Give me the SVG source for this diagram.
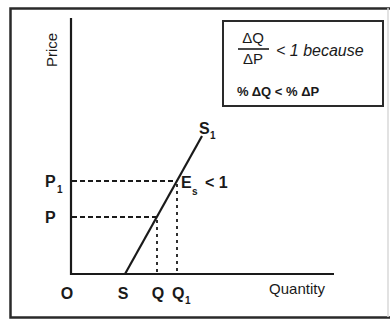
<svg xmlns="http://www.w3.org/2000/svg" width="390" height="320" viewBox="0 0 390 320">
<style>
text{font-family:"Liberation Sans",Arial,sans-serif;fill:#1a1a1a}
.lbl{font-size:16px;font-weight:bold}
.sub{font-size:10px;font-weight:bold}
.ax{stroke:#1a1a1a;stroke-width:2.2;fill:none}
.dash{stroke:#1a1a1a;stroke-width:1.8;stroke-dasharray:5 3;fill:none}
.dot{stroke:#1a1a1a;stroke-width:1.8;stroke-dasharray:3 4;fill:none}
</style>
<rect width="390" height="320" fill="#fff"/>
<g id="frame">
<path d="M390 8.5 H10.5 V317.5 H390" fill="none" stroke="#2a2a2a" stroke-width="2.5"/>
<line x1="388" y1="8" x2="388" y2="317" stroke="#d8d8d8" stroke-width="1.5"/>
</g>
<g id="axes">
<path class="ax" d="M71 18 V274 H334"/>
<text transform="translate(57 50) rotate(-90)" text-anchor="middle" font-size="15">Price</text>
<text x="297" y="294" text-anchor="middle" font-size="15">Quantity</text>
<text class="lbl" x="67" y="299" text-anchor="middle">O</text>
</g>
<g id="connectors">
<line class="ax" x1="125" y1="274" x2="202" y2="136" stroke-width="2"/>
<line class="dash" x1="72" y1="181" x2="177" y2="181"/>
<line class="dash" x1="72" y1="217" x2="157" y2="217"/>
<line class="dot" x1="157" y1="220" x2="157" y2="273"/>
<line class="dot" x1="177" y1="184" x2="177" y2="273"/>
</g>
<g id="labels">
<text class="lbl" x="45" y="187">P</text><text class="sub" x="57" y="193">1</text>
<text class="lbl" x="45" y="223">P</text>
<text class="lbl" x="123" y="299" text-anchor="middle">S</text>
<text class="lbl" x="158" y="299" text-anchor="middle">Q</text>
<text class="lbl" x="172" y="299">Q</text><text class="sub" x="185" y="304">1</text>
<text class="lbl" x="199" y="134">S</text><text class="sub" x="210" y="139">1</text>
<text class="lbl" x="181" y="188">E</text><text class="sub" x="192" y="195">s</text>
<text class="lbl" x="205" y="188">&lt; 1</text>
</g>
<g id="note">
<rect x="223" y="21" width="160" height="85" fill="none" stroke="#2a2a2a" stroke-width="2"/>
<text x="253" y="43" text-anchor="middle" font-size="15">ΔQ</text>
<line x1="238" y1="49" x2="269" y2="49" stroke="#1a1a1a" stroke-width="1.6"/>
<text x="253" y="64" text-anchor="middle" font-size="15">ΔP</text>
<text x="276" y="56" font-size="16" font-style="italic">&lt; 1 because</text>
<text x="237" y="96" font-size="13" font-weight="bold">% ΔQ &lt; % ΔP</text>
</g>
</svg>
